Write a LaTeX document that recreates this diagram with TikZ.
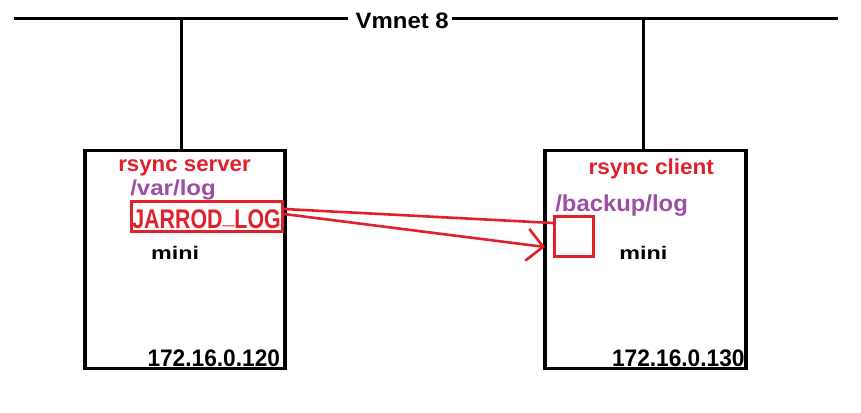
\documentclass[tikz,border=0pt]{standalone}
\usepackage{fontspec}
\usepackage{graphicx}
\setmainfont{Liberation Sans}
\usetikzlibrary{arrows.meta}
\definecolor{rred}{RGB}{224,32,42}
\definecolor{rpurple}{RGB}{156,78,166}
\newcommand\fitt[3]{\resizebox{#1pt}{#2pt}{\bfseries #3}}
\begin{document}
\begin{tikzpicture}[x=1pt,y=-1pt,
  wire/.style={line width=3.2pt,black},
  hostbox/.style={draw=black,line width=3.2pt,minimum height=217.6pt,inner sep=0pt},
  txt/.style={inner sep=0pt,outer sep=0pt,anchor=base west},
  redline/.style={draw=rred,line width=2.6pt}]
\useasboundingbox (0,0) rectangle (861,412);
% bus
\coordinate (busL) at (14,18.3);
\coordinate (busR) at (838,18.3);
\node[txt] (vm) at (355.7,28.3) {\fitt{93}{15.6}{Vmnet 8}};
\draw[wire] (busL) -- ([xshift=-7.4pt]busL -| vm.west);
\draw[wire] ([xshift=3pt]busR -| vm.east) -- (busR);
% hosts
\node[hostbox,minimum width=200pt] (srv) at (185,259.5) {};
\node[hostbox,minimum width=201pt] (cli) at (645.5,259.5) {};
\coordinate (tapA) at (181.5,18.3);
\coordinate (tapB) at (643.3,18.3);
\draw[wire] (tapA) -- (tapA |- srv.north);
\draw[wire] (tapB) -- (tapB |- cli.north);
% server texts
\node[txt,text=rred] (st) at (118.3,171.7) {\fitt{132.5}{11.8}{rsync server}};
\node[txt,text=rpurple] (vl) at (130.3,195) {\fitt{85.5}{15.7}{/var/log}};
\node[draw=rred,line width=2.6pt,minimum width=151.4pt,minimum height=30pt,inner sep=0pt] (jl) at (207,216.3) {};
\node[txt,text=rred] (jt) at (132.3,228.8) {\fitt{148.5}{18.8}{JARROD\raisebox{0.2em}{\_}LOG}};
\node[txt] (m1) at (151,259.3) {\fitt{48}{13.2}{mini}};
\node[txt] (ip1) at (147.5,366) {\fitt{132.5}{16.7}{172.16.0.120}};
% client texts
\node[txt,text=rred] (ct) at (588.5,174) {\fitt{125.5}{15.7}{rsync client}};
\node[txt,text=rpurple] (bl) at (555.3,211.7) {\fitt{132.5}{16.7}{/backup/log}};
\node[draw=rred,line width=2.8pt,minimum width=39.2pt,minimum height=40.2pt,inner sep=0pt] (sq) at (574,236.6) {};
\node[txt] (m2) at (619.3,259.3) {\fitt{48}{13.2}{mini}};
\node[txt] (ip2) at (612,366) {\fitt{132.5}{16.7}{172.16.0.130}};
% connectors
\coordinate (tip) at (545,247);
\draw[redline] ([yshift=7.3pt]jl.east) -- ([yshift=13.6pt]sq.west);
\draw[redline,-{Straight Barb[length=16pt,width=32pt]}] ([yshift=2.3pt]jl.east) -- (tip);
\end{tikzpicture}
\end{document}
